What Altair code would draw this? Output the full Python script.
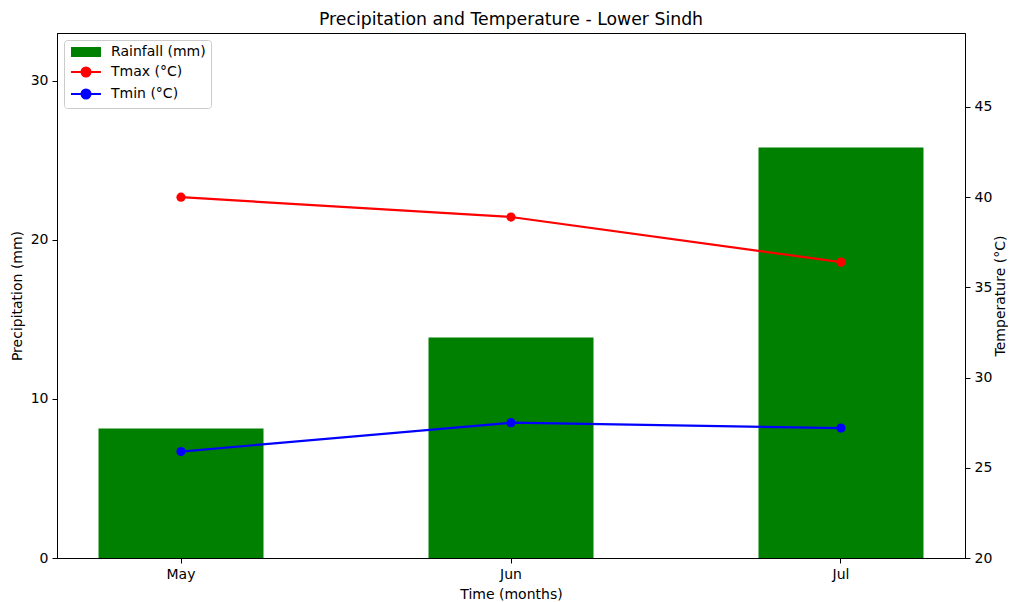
import altair as alt
import pandas as pd

months = ["May", "Jun", "Jul"]
rainfall = [8.14, 13.86, 25.81]
tmax = [40.0, 38.9, 36.4]
tmin = [25.9, 27.5, 27.2]

series_names = ["Rainfall (mm)", "Tmax (°C)", "Tmin (°C)"]
series_colors = ["#008000", "#ff0000", "#0000ff"]

rain_df = pd.DataFrame({"month": months, "value": rainfall, "series": series_names[0]})
temp_df = pd.concat([
    pd.DataFrame({"month": months, "value": tmax, "series": series_names[1]}),
    pd.DataFrame({"month": months, "value": tmin, "series": series_names[2]}),
])

FONT = "DejaVu Sans"

rect_path = "M-1,-1L5,-1L5,1L-1,1Z"
line_path = "M-1,0L5,0M2.9,0A0.9,0.9,0,1,1,1.1,0A0.9,0.9,0,1,1,2.9,0Z"

is_rain = f"datum.value === '{series_names[0]}'"
color_expr = (
    f"{is_rain} ? '{series_colors[0]}' : "
    f"(datum.value === '{series_names[1]}' ? '{series_colors[1]}' : '{series_colors[2]}')"
)

legend = alt.Legend(
    title=None,
    orient="top-left",
    offset=7,
    padding=5,
    fillColor="white",
    strokeColor="#cccccc",
    cornerRadius=3,
    labelFontSize=14,
    labelFont=FONT,
    labelColor="black",
    labelOffset=28,
    symbolSize=100,
    rowPadding=4,
    symbolType=alt.ExprRef(expr=f"{is_rain} ? '{rect_path}' : '{line_path}'"),
    symbolFillColor=alt.ExprRef(expr=color_expr),
    symbolStrokeColor=alt.ExprRef(expr=color_expr),
    symbolStrokeWidth=alt.ExprRef(expr=f"{is_rain} ? 0 : 2"),
    symbolOpacity=1,
)

color = alt.Color(
    "series:N",
    scale=alt.Scale(domain=series_names, range=series_colors),
    legend=legend,
)

x = alt.X(
    "month:N",
    sort=months,
    scale=alt.Scale(paddingInner=0.5, paddingOuter=0.1258),
    axis=alt.Axis(title="Time (months)", labelAngle=0),
)

bars = alt.Chart(rain_df).mark_bar().encode(
    x=x,
    y=alt.Y(
        "value:Q",
        scale=alt.Scale(domain=[0, 33], nice=False, zero=True),
        axis=alt.Axis(title="Precipitation (mm)", values=[0, 10, 20, 30], orient="left"),
    ),
    color=color,
)

temp_y = alt.Y(
    "value:Q",
    scale=alt.Scale(domain=[20, 49.1], nice=False, zero=False),
    axis=alt.Axis(
        title="Temperature (°C)",
        values=[20, 25, 30, 35, 40, 45],
        orient="right",
        titleAngle=270,
        titleBaseline="top",
        titlePadding=2,
    ),
)

lines = alt.Chart(temp_df).mark_line(strokeWidth=2.2).encode(
    x=x, y=temp_y, color=color, detail="series:N"
)
points = alt.Chart(temp_df).mark_point(filled=True, size=85, opacity=1).encode(
    x=x, y=temp_y, color=color
)
temp = alt.layer(lines, points)

chart = (
    alt.layer(bars, temp)
    .resolve_scale(y="independent")
    .properties(
        width=908,
        height=525,
        padding={"left": 2, "top": 2, "right": 0, "bottom": 0},
        title=alt.TitleParams(
            "Precipitation and Temperature - Lower Sindh",
            fontSize=17.3,
            font=FONT,
            fontWeight="normal",
            color="black",
            anchor="middle",
            offset=5,
        ),
    )
    .configure_view(stroke="black", strokeWidth=1)
    .configure_axis(
        grid=False,
        domainColor="black",
        domainWidth=1,
        tickColor="black",
        tickSize=5,
        tickWidth=1,
        labelPadding=4,
        labelFont=FONT,
        labelFontSize=14,
        labelColor="black",
        titleFont=FONT,
        titleFontSize=14,
        titleFontWeight="normal",
        titleColor="black",
        titlePadding=6,
    )
)

chart.save("out.html", embed_options={"renderer": "svg", "actions": False})
